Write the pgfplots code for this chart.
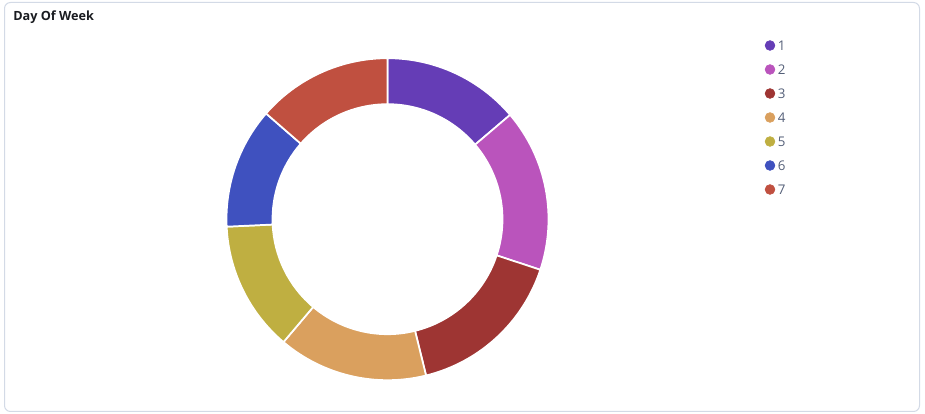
\documentclass[border=0pt]{standalone}
\usepackage{fontspec}
\setmainfont{Open Sans}
\usepackage{pgfplots}
\usepackage{pgfplotstable}
\pgfplotsset{compat=1.18}

\definecolor{seg0}{HTML}{653DB6}
\definecolor{seg1}{HTML}{BA54BC}
\definecolor{seg2}{HTML}{9E3533}
\definecolor{seg3}{HTML}{DAA05E}
\definecolor{seg4}{HTML}{BFAF41}
\definecolor{seg5}{HTML}{3F51BF}
\definecolor{seg6}{HTML}{C05040}
\definecolor{frame}{HTML}{D3DAE6}
\definecolor{legtext}{HTML}{545F78}
\definecolor{titletext}{HTML}{1A1C21}

% share of each day, in percent
\pgfplotstableread{
day value
1 13.78
2 16.31
3 16.06
4 15.03
5 13.08
6 12.14
7 13.61
}\daytable

% donut centre in pixel coordinates (y up), radii in pt (1px = 0.75pt)
\def\cx{387.5}
\def\cy{194.8}
\def\rout{120.75pt}
\def\rin{86.25pt}

\gdef\cum{0}
\gdef\segs{}
\pgfplotstableforeachcolumnelement{value}\of\daytable\as\v{%
  \pgfmathsetmacro\a{90-3.6*\cum}%
  \pgfmathsetmacro\newcum{\cum+\v}%
  \pgfmathsetmacro\b{90-3.6*\newcum}%
  \xdef\cum{\newcum}%
  \xdef\segs{\segs
    \noexpand\fill[seg\pgfplotstablerow, draw=white, line width=1.3pt]
      ([shift={(\a:\rout)}]axis cs:\cx,\cy)
      arc[start angle=\a, end angle=\b, radius=\rout]
      -- ([shift={(\b:\rin)}]axis cs:\cx,\cy)
      arc[start angle=\b, end angle=\a, radius=\rin] -- cycle;}%
}

\begin{document}
\begin{tikzpicture}
\begin{axis}[
  scale only axis,
  width=693.75pt, height=310.5pt,
  xmin=0, xmax=925, ymin=0, ymax=414,
  hide axis, clip=false,
]
\path (axis cs:0,0) rectangle (axis cs:925,414);
\draw[frame, line width=0.75pt, rounded corners=4.5pt]
  (axis cs:4.5,2.5) rectangle (axis cs:919.5,411.5);
\node[anchor=base west, font=\bfseries\fontsize{9.5}{11}\selectfont, text=titletext, inner sep=0pt]
  at (axis cs:13,393) {Day Of Week};

\segs

% legend
\addplot[only marks, mark=*, mark size=3.7pt, seg0] coordinates {(770,368.5)};
\addplot[only marks, mark=*, mark size=3.7pt, seg1] coordinates {(770,344.5)};
\addplot[only marks, mark=*, mark size=3.7pt, seg2] coordinates {(770,320.5)};
\addplot[only marks, mark=*, mark size=3.7pt, seg3] coordinates {(770,296.5)};
\addplot[only marks, mark=*, mark size=3.7pt, seg4] coordinates {(770,272.5)};
\addplot[only marks, mark=*, mark size=3.7pt, seg5] coordinates {(770,248.5)};
\addplot[only marks, mark=*, mark size=3.7pt, seg6] coordinates {(770,224.5)};
\pgfplotsinvokeforeach{1,...,7}{
  \node[anchor=west, inner sep=0pt, text=legtext, font=\fontsize{10}{12}\selectfont]
    at (axis cs:777.5,{392.5-24*#1}) {#1};
}
\end{axis}
\end{tikzpicture}
\end{document}
